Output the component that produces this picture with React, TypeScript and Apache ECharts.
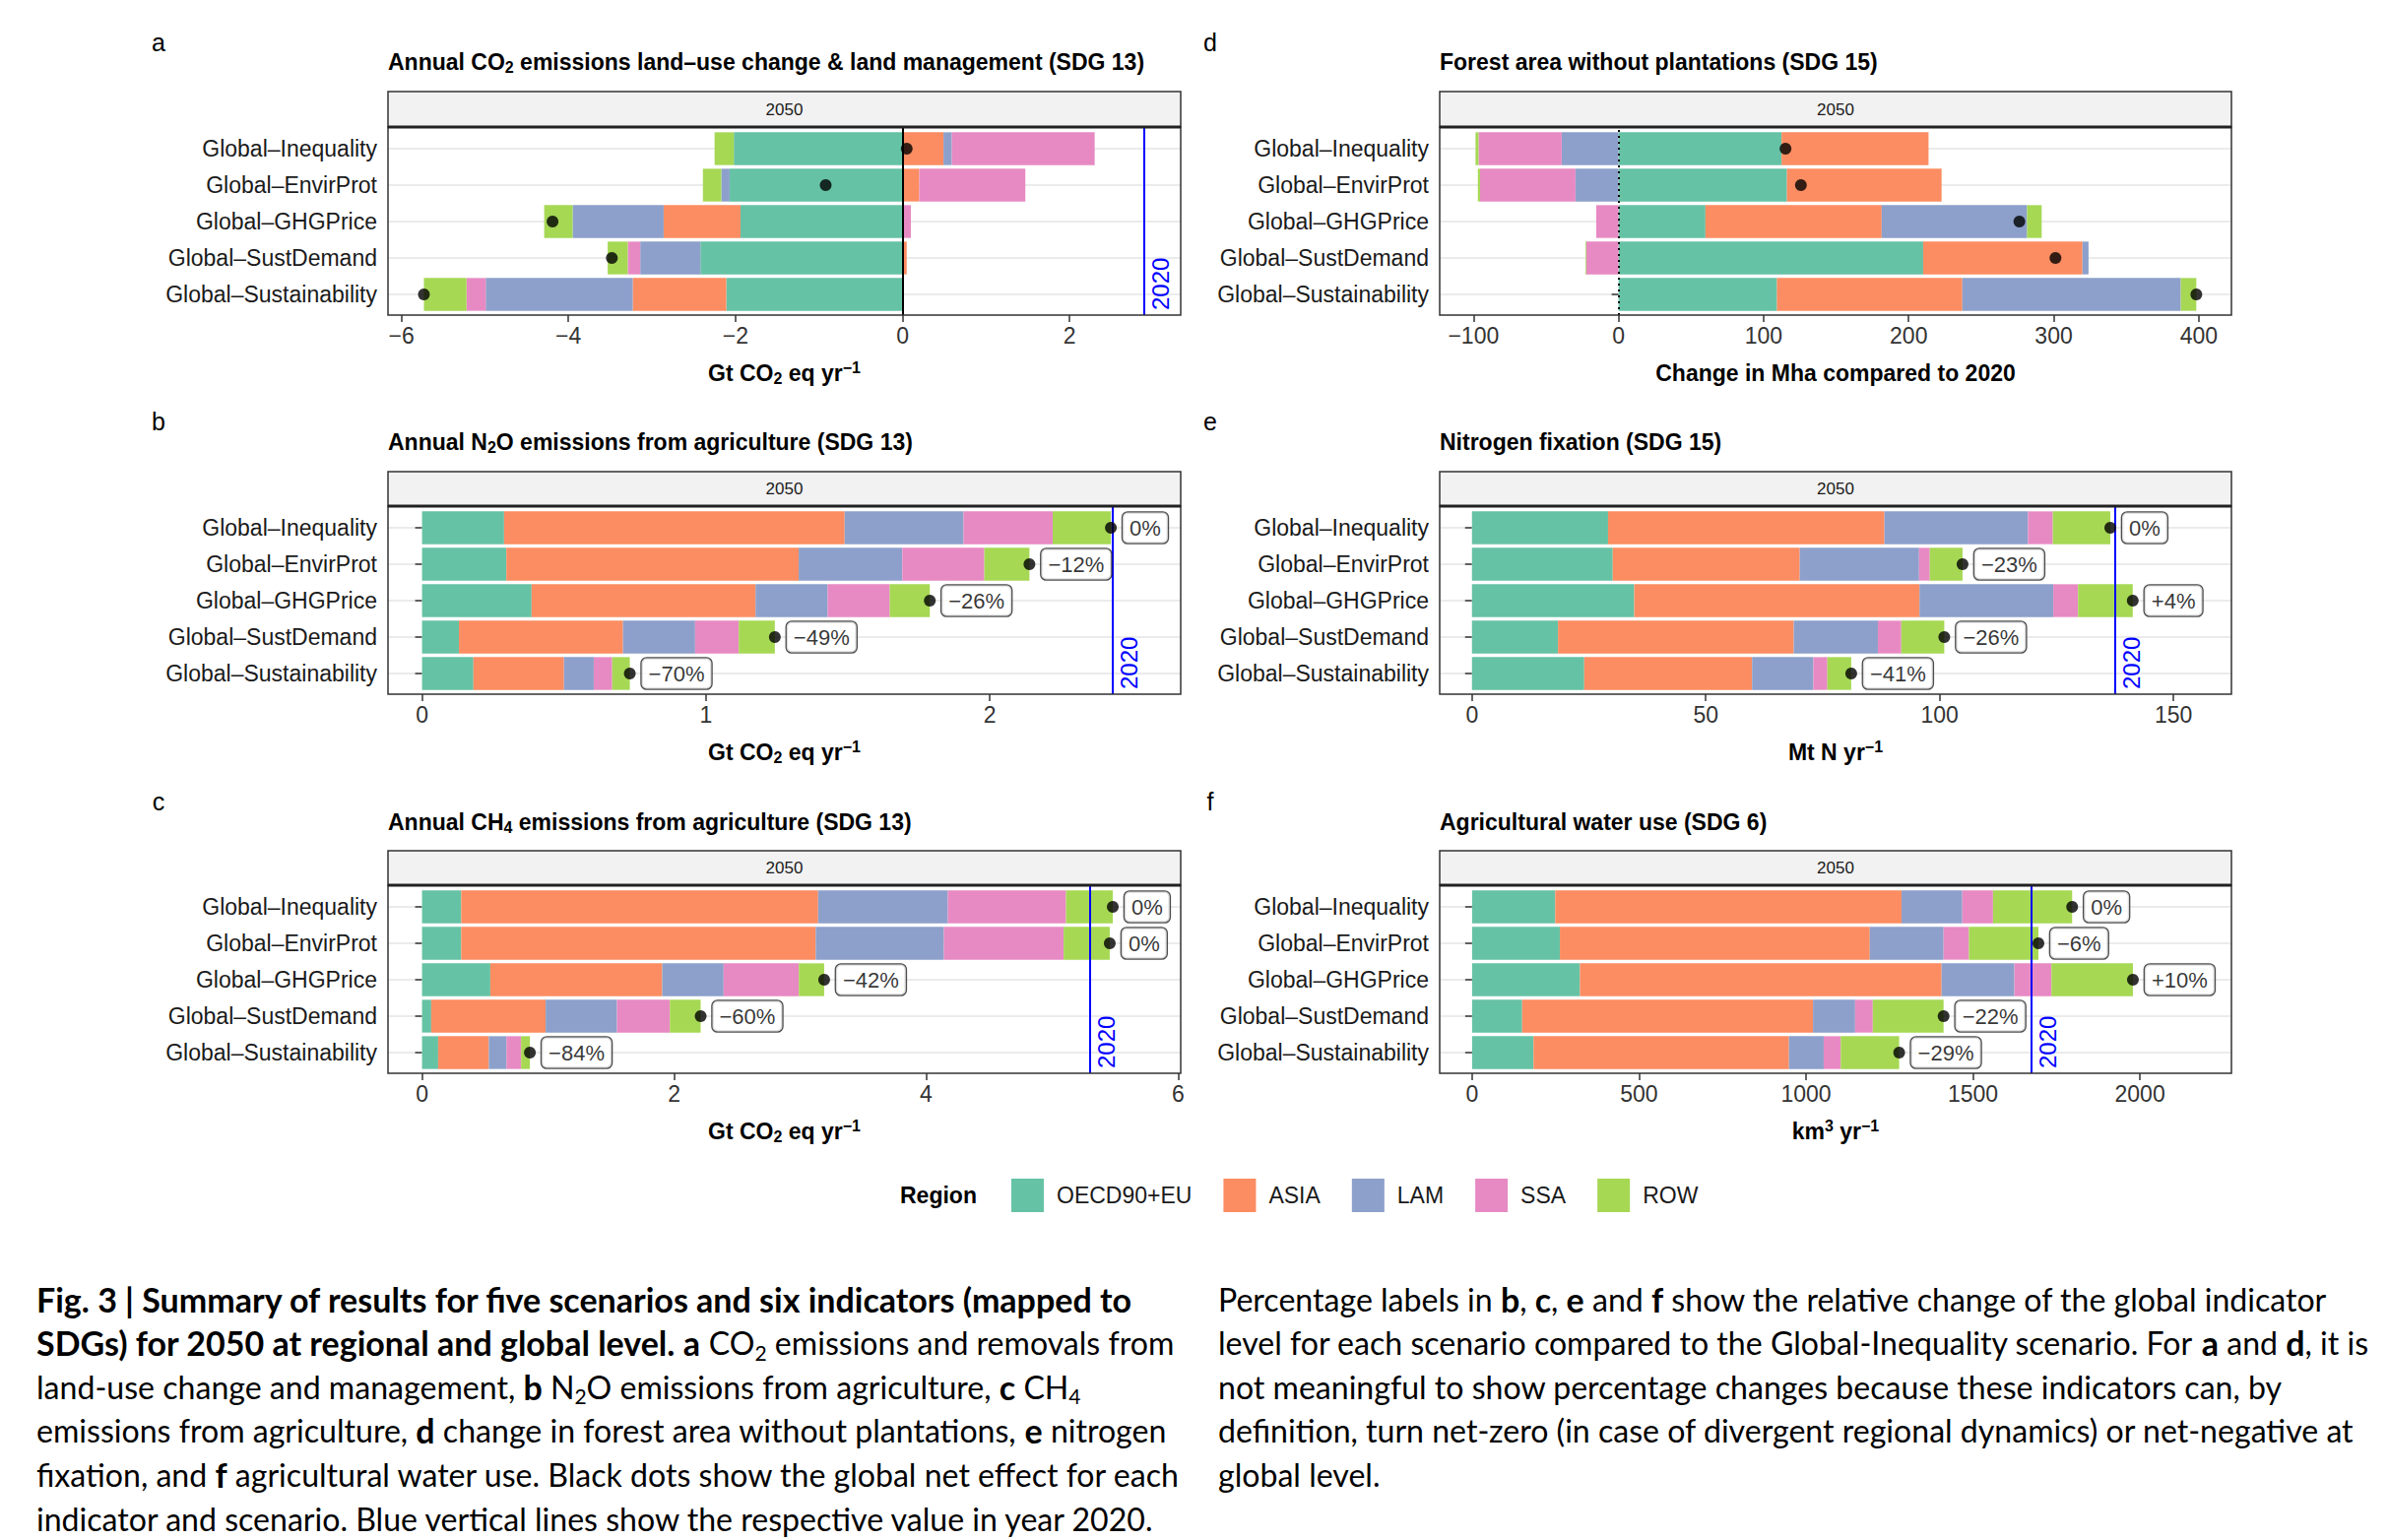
import React, { useEffect, useRef } from "react";
import * as echarts from "echarts";

// ---------- categories ----------
const scenarios = [
  "Global–Inequality",
  "Global–EnvirProt",
  "Global–GHGPrice",
  "Global–SustDemand",
  "Global–Sustainability",
];
const regions = ["OECD90+EU", "ASIA", "LAM", "SSA", "ROW"];
const regionColors = ["#66C2A5", "#FC8D62", "#8DA0CB", "#E78AC3", "#A6D854"];

// ---------- a: CO2 LUC (Gt CO2 eq / yr) ----------
const co2OECD = [-2.02, -2.07, -1.94, -2.42, -2.11];
const co2ASIA = [0.49, 0.2, -0.92, 0.05, -1.12];
const co2LAM = [0.1, -0.1, -1.09, -0.72, -1.76];
const co2SSA = [1.71, 1.27, 0.1, -0.15, -0.23];
const co2ROW = [-0.23, -0.22, -0.34, -0.24, -0.51];
const co2Ticks = [-6, -4, -2, 0, 2];
const co2Range = [-6.16, 3.33];
const co2Line2020 = 2.89;

// ---------- b: N2O ----------
const n2oOECD = [0.289, 0.297, 0.386, 0.13, 0.181];
const n2oASIA = [1.2, 1.03, 0.789, 0.578, 0.319];
const n2oLAM = [0.419, 0.365, 0.254, 0.254, 0.105];
const n2oSSA = [0.314, 0.289, 0.219, 0.154, 0.065];
const n2oROW = [0.205, 0.159, 0.141, 0.127, 0.062];
const n2oPct = ["0%", "−12%", "−26%", "−49%", "−70%"];
const n2oTicks = [0, 1, 2];
const n2oRange = [-0.12, 2.673];
const n2oLine2020 = 2.432;

// ---------- c: CH4 ----------
const ch4OECD = [0.311, 0.311, 0.542, 0.073, 0.128];
const ch4ASIA = [2.832, 2.813, 1.364, 0.908, 0.402];
const ch4LAM = [1.029, 1.017, 0.487, 0.566, 0.14];
const ch4SSA = [0.938, 0.95, 0.597, 0.42, 0.116];
const ch4ROW = [0.371, 0.366, 0.201, 0.244, 0.07];
const ch4Pct = ["0%", "0%", "−42%", "−60%", "−84%"];
const ch4Ticks = [0, 2, 4, 6];
const ch4Range = [-0.27, 6.02];
const ch4Line2020 = 5.298;

// ---------- d: forest area change (Mha) ----------
const forOECD = [112.4, 116.1, 59.9, 210.0, 109.2];
const forASIA = [101.3, 106.6, 121.5, 109.8, 127.8];
const forLAM = [-39.2, -29.7, 100.2, 4.2, 150.6];
const forSSA = [-57.3, -65.8, -15.4, -22.3, 0];
const forROW = [-2.1, -1.5, 10.1, -0.5, 10.7];
const forTicks = [-100, 0, 100, 200, 300, 400];
const forRange = [-123.3, 422.5];

// ---------- e: nitrogen fixation (Mt N / yr) ----------
const nfxOECD = [29.1, 30.1, 34.7, 18.4, 24.0];
const nfxASIA = [59.1, 40.0, 61.0, 50.4, 35.9];
const nfxLAM = [30.7, 25.5, 28.6, 18.0, 13.1];
const nfxSSA = [5.3, 2.3, 5.3, 5.0, 3.0];
const nfxROW = [12.3, 7.0, 11.7, 9.2, 5.1];
const nfxPct = ["0%", "−23%", "+4%", "−26%", "−41%"];
const nfxTicks = [0, 50, 100, 150];
const nfxRange = [-6.9, 162.4];
const nfxLine2020 = 137.5;

// ---------- f: agricultural water use (km3 / yr) ----------
const watOECD = [249, 263, 323, 150, 184];
const watASIA = [1037, 928, 1083, 871, 765];
const watLAM = [182, 221, 218, 126, 104];
const watSSA = [92, 76, 111, 53, 51];
const watROW = [237, 208, 244, 212, 175];
const watPct = ["0%", "−6%", "+10%", "−22%", "−29%"];
const watTicks = [0, 500, 1000, 1500, 2000];
const watRange = [-97, 2274];
const watLine2020 = 1675;

// ---------- texts ----------
const panelLetters = ["a", "b", "c", "d", "e", "f"];
const stripLabel = "2050";
const legendTitle = "Region";
const line2020Label = "2020";

type Panel = {
  title: string;
  axisName: string;
  values: number[][];
  ticks: number[];
  range: number[];
  line2020: number | null;
  pct: string[] | null;
  zero: "solid" | "dotted" | null;
};

const panels: Panel[] = [
  {
    title: "{t|Annual CO}{s|2}{t| emissions land–use change & land management (SDG 13)}",
    axisName: "{t|Gt CO}{s|2}{t| eq yr}{p|−1}",
    values: [co2OECD, co2ASIA, co2LAM, co2SSA, co2ROW],
    ticks: co2Ticks,
    range: co2Range,
    line2020: co2Line2020,
    pct: null,
    zero: "solid",
  },
  {
    title: "{t|Annual N}{s|2}{t|O emissions from agriculture (SDG 13)}",
    axisName: "{t|Gt CO}{s|2}{t| eq yr}{p|−1}",
    values: [n2oOECD, n2oASIA, n2oLAM, n2oSSA, n2oROW],
    ticks: n2oTicks,
    range: n2oRange,
    line2020: n2oLine2020,
    pct: n2oPct,
    zero: null,
  },
  {
    title: "{t|Annual CH}{s|4}{t| emissions from agriculture (SDG 13)}",
    axisName: "{t|Gt CO}{s|2}{t| eq yr}{p|−1}",
    values: [ch4OECD, ch4ASIA, ch4LAM, ch4SSA, ch4ROW],
    ticks: ch4Ticks,
    range: ch4Range,
    line2020: ch4Line2020,
    pct: ch4Pct,
    zero: null,
  },
  {
    title: "{t|Forest area without plantations (SDG 15)}",
    axisName: "{t|Change in Mha compared to 2020}",
    values: [forOECD, forASIA, forLAM, forSSA, forROW],
    ticks: forTicks,
    range: forRange,
    line2020: null,
    pct: null,
    zero: "dotted",
  },
  {
    title: "{t|Nitrogen fixation (SDG 15)}",
    axisName: "{t|Mt N yr}{p|−1}",
    values: [nfxOECD, nfxASIA, nfxLAM, nfxSSA, nfxROW],
    ticks: nfxTicks,
    range: nfxRange,
    line2020: nfxLine2020,
    pct: nfxPct,
    zero: null,
  },
  {
    title: "{t|Agricultural water use (SDG 6)}",
    axisName: "{t|km}{p|3}{t| yr}{p|−1}",
    values: [watOECD, watASIA, watLAM, watSSA, watROW],
    ticks: watTicks,
    range: watRange,
    line2020: watLine2020,
    pct: watPct,
    zero: null,
  },
];

// caption lines: [style, text]
const captionLeft: string[][][] = [
  [["b", "Fig. 3 | Summary of results for five scenarios and six indicators (mapped to"]],
  [["b", "SDGs) for 2050 at regional and global level. a"], ["r", " CO"], ["s", "2"], ["r", " emissions and removals from"]],
  [["r", "land-use change and management, "], ["b", "b"], ["r", " N"], ["s", "2"], ["r", "O emissions from agriculture, "], ["b", "c"], ["r", " CH"], ["s", "4"]],
  [["r", "emissions from agriculture, "], ["b", "d"], ["r", " change in forest area without plantations, "], ["b", "e"], ["r", " nitrogen"]],
  [["r", "fixation, and "], ["b", "f"], ["r", " agricultural water use. Black dots show the global net effect for each"]],
  [["r", "indicator and scenario. Blue vertical lines show the respective value in year 2020."]],
];
const captionRight: string[][][] = [
  [["r", "Percentage labels in "], ["b", "b"], ["r", ", "], ["b", "c"], ["r", ", "], ["b", "e"], ["r", " and "], ["b", "f"], ["r", " show the relative change of the global indicator"]],
  [["r", "level for each scenario compared to the Global-Inequality scenario. For "], ["b", "a"], ["r", " and "], ["b", "d"], ["r", ", it is"]],
  [["r", "not meaningful to show percentage changes because these indicators can, by"]],
  [["r", "definition, turn net-zero (in case of divergent regional dynamics) or net-negative at"]],
  [["r", "global level."]],
];

// ---------- layout ----------
const W = 2425;
const H = 1564;
const FONT = '"Liberation Sans", Arial, Helvetica, sans-serif';
const CAP_FONT = 'Lato, "Open Sans", sans-serif';
const COL_X = [394, 1462];
const COL_W = [805, 804];
const STRIP_TOP = [93, 479, 864];
const STRIP_BOT = [129, 514, 899];
const PANEL_BOT = [320, 705, 1090];
const TITLE_Y = [63, 449, 835];
const LETTER_Y = [43, 428, 814];
const LETTER_X = [161, 1229];
const CAP_X = [37, 1237];
const CAP_Y0 = 1319;
const CAP_DY = 44.6;

const fmtNum = (v: number) => (v < 0 ? "−" + Math.abs(v) : String(v));

function buildOption() {
  const grid: any[] = [];
  const xAxis: any[] = [];
  const yAxis: any[] = [];
  const series: any[] = [];
  const graphic: any[] = [];

  const titleRich = {
    t: { fontSize: 23, fontWeight: "bold", fontFamily: FONT, fill: "#000", color: "#000", lineHeight: 27 },
    s: { fontSize: 16, fontWeight: "bold", fontFamily: FONT, fill: "#000", color: "#000", lineHeight: 15, verticalAlign: "bottom" },
    p: { fontSize: 16, fontWeight: "bold", fontFamily: FONT, fill: "#000", color: "#000", lineHeight: 15, verticalAlign: "top" },
  };

  panels.forEach((p, i) => {
    const col = Math.floor(i / 3);
    const row = i % 3;
    const x0 = COL_X[col];
    const w = COL_W[col];
    const sTop = STRIP_TOP[row];
    const sBot = STRIP_BOT[row];
    const pBot = PANEL_BOT[row];
    const gTop = sBot + 22;
    const gH = 148;

    grid.push({ left: x0, top: gTop, width: w, height: gH, containLabel: false, outerBoundsMode: "none" });

    xAxis.push({
      type: "value",
      gridIndex: i,
      min: p.range[0],
      max: p.range[1],
      offset: pBot - (gTop + gH),
      axisLine: { show: false },
      axisTick: { show: true, length: 7, customValues: p.ticks, lineStyle: { color: "#333", width: 1.5 } },
      axisLabel: {
        customValues: p.ticks,
        formatter: (v: number) => fmtNum(v),
        fontSize: 23,
        fontFamily: FONT,
        color: "#333",
        margin: 9,
      },
      splitLine: { show: false },
      name: p.axisName,
      nameLocation: "middle",
      nameGap: 45,
      nameTextStyle: { rich: titleRich },
    });

    yAxis.push({
      type: "category",
      gridIndex: i,
      data: scenarios,
      inverse: true,
      boundaryGap: false,
      axisLine: { show: false },
      axisTick: { show: true, length: 7, lineStyle: { color: "#333", width: 1.5 } },
      axisLabel: { fontSize: 23, fontFamily: FONT, color: "#1a1a1a", margin: 11, interval: 0 },
      splitLine: { show: true, lineStyle: { color: "#ebebeb", width: 2 } },
    });

    p.values.forEach((vals, r) => {
      series.push({
        type: "bar",
        name: regions[r],
        xAxisIndex: i,
        yAxisIndex: i,
        stack: "st" + i,
        data: vals,
        barWidth: "90%",
        itemStyle: { color: regionColors[r] },
        clip: false,
        silent: true,
      });
    });

    const net = scenarios.map((_, j) => p.values.reduce((s, arr) => s + arr[j], 0));
    const markData: any[] = [];
    if (p.zero) {
      markData.push([
        {
          xAxis: 0,
          y: pBot,
          lineStyle: { color: "#000", width: 2, type: p.zero === "solid" ? "solid" : [2, 4] },
          label: { show: false },
        },
        { xAxis: 0, y: sBot },
      ]);
    }
    if (p.line2020 != null) {
      markData.push([
        {
          xAxis: p.line2020,
          y: pBot,
          lineStyle: { color: "#0000ff", width: 2, type: "solid" },
          label: {
            show: true,
            formatter: line2020Label,
            position: "insideStartBottom",
            color: "#0000ff",
            fontSize: 24,
            fontFamily: FONT,
          },
        },
        { xAxis: p.line2020, y: sBot },
      ]);
    }
    const pct = p.pct;
    series.push({
      type: "scatter",
      xAxisIndex: i,
      yAxisIndex: i,
      data: net.map((v, j) => [v, scenarios[j]]),
      symbol: "circle",
      symbolSize: 12,
      itemStyle: { color: "#000" },
      z: 5,
      silent: true,
      label: pct
        ? {
            show: true,
            position: "right",
            distance: 6,
            formatter: (q: any) => pct[q.dataIndex],
            fontSize: 22,
            fontFamily: FONT,
            color: "#000",
            backgroundColor: "#fff",
            borderColor: "#222",
            borderWidth: 1.3,
            borderRadius: 5,
            padding: [5, 7, 4, 7],
          }
        : { show: false },
      markLine: markData.length
        ? { silent: true, symbol: ["none", "none"], data: markData, animation: false }
        : undefined,
    });

    // panel letter
    graphic.push({
      type: "text",
      x: LETTER_X[col],
      y: LETTER_Y[row],
      style: { text: panelLetters[i], fontSize: 25, fontFamily: FONT, fill: "#000", textAlign: "center", textVerticalAlign: "middle" },
    });
    // title
    graphic.push({
      type: "text",
      x: x0,
      y: TITLE_Y[row],
      style: { text: p.title, rich: titleRich, textAlign: "left", textVerticalAlign: "middle" },
    });
    // strip
    graphic.push({
      type: "rect",
      shape: { x: x0, y: sTop, width: w, height: sBot - sTop },
      style: { fill: "#f2f2f2", stroke: "#333", lineWidth: 1.5 },
      z: 1,
    });
    graphic.push({
      type: "text",
      x: x0 + w / 2,
      y: (sTop + sBot) / 2,
      style: { text: stripLabel, fontSize: 17, fontFamily: FONT, fill: "#1a1a1a", textAlign: "center", textVerticalAlign: "middle" },
      z: 2,
    });
    // panel border
    graphic.push({
      type: "rect",
      shape: { x: x0, y: sBot, width: w, height: pBot - sBot },
      style: { fill: "none", stroke: "#333", lineWidth: 1.5 },
      z: 100,
    });
    graphic.push({
      type: "line",
      shape: { x1: x0, y1: sBot, x2: x0 + w, y2: sBot },
      style: { stroke: "#222", lineWidth: 3 },
      z: 101,
    });
  });

  // legend title
  graphic.push({
    type: "text",
    x: 914,
    y: 1214,
    style: { text: legendTitle, fontSize: 23, fontWeight: "bold", fontFamily: FONT, fill: "#000", textAlign: "left", textVerticalAlign: "middle" },
  });

  const capRich = {
    r: { fontSize: 32.1, fontFamily: CAP_FONT, fill: "#000", color: "#000", lineHeight: 40 },
    b: { fontSize: 34, fontFamily: CAP_FONT, fontWeight: "bold", fill: "#000", color: "#000", lineHeight: 40 },
    s: { fontSize: 21, fontFamily: CAP_FONT, fill: "#000", color: "#000", lineHeight: 26, verticalAlign: "bottom" },
  };
  [captionLeft, captionRight].forEach((lines, c) => {
    lines.forEach((segs, k) => {
      graphic.push({
        type: "text",
        x: CAP_X[c],
        y: CAP_Y0 + k * CAP_DY,
        style: {
          text: segs.map(([s, t]) => `{${s}|${t}}`).join(""),
          rich: capRich,
          textAlign: "left",
          textVerticalAlign: "middle",
        },
      });
    });
  });

  return {
    animation: false,
    backgroundColor: "#fff",
    textStyle: { fontFamily: FONT },
    grid,
    xAxis,
    yAxis,
    series,
    legend: {
      show: true,
      data: regions,
      left: 1027,
      top: 1197,
      padding: 0,
      orient: "horizontal",
      icon: "rect",
      itemWidth: 33,
      itemHeight: 34,
      itemGap: 32,
      selectedMode: false,
      textStyle: { fontSize: 23, fontFamily: FONT, color: "#1a1a1a", padding: [0, 0, 0, 8] },
    },
    graphic: { elements: graphic },
  };
}

export default function App() {
  const ref = useRef<HTMLDivElement>(null);
  useEffect(() => {
    if (!ref.current) return;
    const chart = echarts.init(ref.current, null, { renderer: "svg", width: W, height: H });
    chart.setOption(buildOption() as any);
    return () => chart.dispose();
  }, []);
  return (
    <div
      ref={ref}
      style={{ position: "fixed", left: 0, top: 0, width: W, height: H, background: "#fff" }}
    />
  );
}
